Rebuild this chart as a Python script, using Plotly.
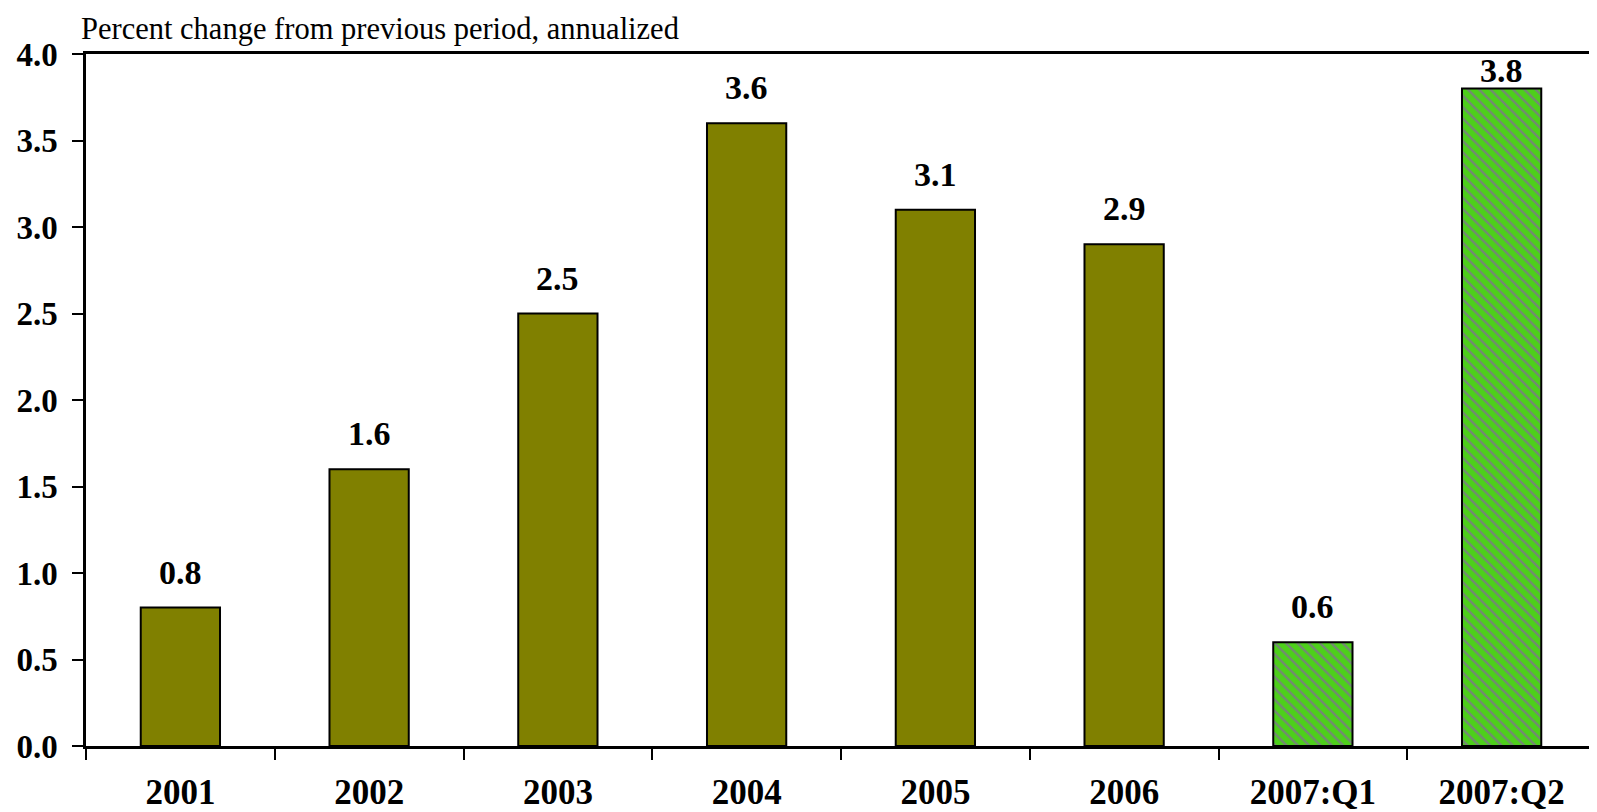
import plotly.graph_objects as go

categories = ["2001", "2002", "2003", "2004", "2005", "2006", "2007:Q1", "2007:Q2"]
values = [0.8, 1.6, 2.5, 3.6, 3.1, 2.9, 0.6, 3.8]
is_quarter = [False, False, False, False, False, False, True, True]
y_ticks = [0.0, 0.5, 1.0, 1.5, 2.0, 2.5, 3.0, 3.5, 4.0]
subtitle = "Percent change from previous period, annualized"

OLIVE = "#808000"
GREEN = "#4DD01A"
PURPLE = "#9B3FD0"
SERIF = "Liberation Serif, Times New Roman, serif"

fig = go.Figure()

idx = list(range(len(categories)))
ann_x = [i for i, q in zip(idx, is_quarter) if not q]
ann_vals = [v for v, q in zip(values, is_quarter) if not q]
q_x = [i for i, q in zip(idx, is_quarter) if q]
q_vals = [v for v, q in zip(values, is_quarter) if q]

fig.add_trace(go.Bar(
    x=ann_x, y=ann_vals, marker=dict(color=OLIVE, line=dict(color="black", width=2)),
    width=0.42, hoverinfo="y",
))
fig.add_trace(go.Bar(
    x=q_x, y=q_vals,
    marker=dict(color=GREEN, line=dict(color="black", width=2),
                pattern=dict(shape="\\", fgcolor=PURPLE, bgcolor=GREEN, size=8, solidity=0.3)),
    width=0.42, hoverinfo="y",
))

for i, v in zip(idx, values):
    fig.add_annotation(
        x=i, y=v, xref="x", yref="y", text=f"<b>{v:.1f}</b>", showarrow=False,
        yanchor="bottom", yshift=(15 if v < 3.7 else -2),
        font=dict(family=SERIF, size=34, color="black"),
    )

fig.add_annotation(
    xref="paper", yref="paper", x=-0.004, y=1, xanchor="left", yanchor="bottom",
    yshift=7, borderpad=0, text=subtitle, showarrow=False,
    font=dict(family=SERIF, size=30.5, color="black"),
)

# page body has an 8px margin: figure is offset by 8px right/down
fig.update_layout(
    width=1589, height=804,
    margin=dict(l=78, r=1, t=46, b=66),
    paper_bgcolor="white", plot_bgcolor="white",
    showlegend=False, barmode="overlay",
    font=dict(family=SERIF, color="black"),
)
fig.update_xaxes(
    tickmode="array", tickvals=idx, ticktext=categories,
    showline=True, linecolor="black", linewidth=2.5, mirror=True,
    ticks="", showgrid=False, range=[-0.5, 7.5], zeroline=False,
    ticklabelstandoff=13, automargin=False,
    tickfont=dict(family=SERIF, size=35, color="black", weight="bold"),
    minor=dict(tickvals=[i - 0.5 for i in idx] + [len(idx) - 0.5], ticks="outside",
               ticklen=11, tickwidth=2, tickcolor="black", showgrid=False),
)
fig.update_yaxes(
    range=[0, 4], tickvals=y_ticks, ticktext=[f"{t:.1f}" for t in y_ticks],
    showline=True, linecolor="black", linewidth=2.5,
    ticks="outside", ticklen=11, tickwidth=2, tickcolor="black",
    ticklabelstandoff=8, automargin=False,
    tickfont=dict(family=SERIF, size=33, color="black", weight="bold"),
    showgrid=False, zeroline=False,
)

fig.write_html("out.html")
